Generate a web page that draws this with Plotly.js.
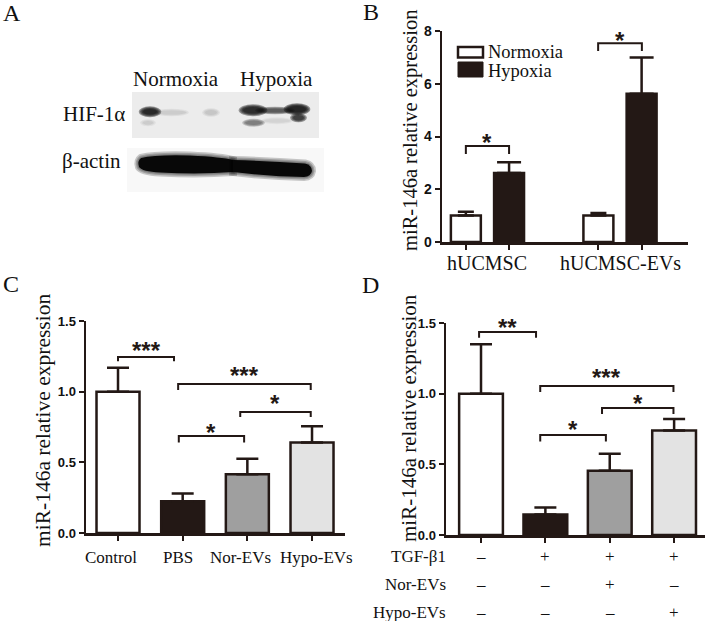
<!DOCTYPE html>
<html><head><meta charset="utf-8">
<script src="https://cdn.plot.ly/plotly-3.0.1.min.js"></script>
<style>html,body{margin:0;padding:0;background:#fff}#chart{width:709px;height:621px}</style>
</head><body><div id="chart"></div>
<script>
// ---------------- data ----------------
const groupsB = ['hUCMSC', 'hUCMSC-EVs'];
const seriesB = ['Normoxia', 'Hypoxia'];
const normoxiaMeanB = [1.0, 1.0];
const normoxiaErrB = [0.15, 0.10];
const hypoxiaMeanB = [2.62, 5.62];
const hypoxiaErrB = [0.40, 1.38];
const yTicksB = [0, 2, 4, 6, 8];

const groupsC = ['Control', 'PBS', 'Nor-EVs', 'Hypo-EVs'];
const meanC = [1.0, 0.225, 0.415, 0.64];
const errC = [0.17, 0.055, 0.11, 0.115];
const yTicksCD = [0, 0.5, 1.0, 1.5];

const meanD = [1.0, 0.145, 0.455, 0.74];
const errD = [0.35, 0.05, 0.12, 0.08];
const rowLabelsD = ['TGF-β1', 'Nor-EVs', 'Hypo-EVs'];
const rowSignsD = [['–', '+', '+', '+'], ['–', '–', '+', '–'], ['–', '–', '–', '+']];

const starsB = ['*', '*'];
const starsC = ['***', '***', '*', '*'];
const starsD = ['**', '***', '*', '*'];

const blotLanes = ['Normoxia', 'Hypoxia'];
const blotRows = ['HIF-1α', 'β-actin'];
const yTitle = 'miR-146a relative expression';

// ---------------- layout helpers ----------------
const W = 709, H = 621;
const dark = '#231815';
const serif = 'Liberation Serif, Times New Roman, serif';
const sans = 'Liberation Sans, Arial, sans-serif';
const fx = x => x / W;
const fy = y => 1 - y / H;
const P = (x, y) => fx(x) + ',' + fy(y);

const barColorsC = ['#ffffff', dark, '#9f9f9f', '#e3e3e3'];
const offB = 0.163;
// bracket geometry: [x from, x to, level, drop] in data units
const brB = [[-offB, offB, 3.64, 0.30], [0.835, 1.165, 7.54, 0.30]];
const brC = [[0, 0.866, 1.245, 0.03], [0.93, 2.98, 1.054, 0.042], [1.89, 2.98, 0.856, 0.036], [0.94, 1.95, 0.686, 0.045]];
const brD = [[-0.03, 0.855, 1.437, 0.042], [0.92, 2.99, 1.054, 0.042], [1.88, 2.99, 0.899, 0.042], [0.92, 1.94, 0.708, 0.047]];
const starGapB = [9, 8], starGapC = [12, 14, 14, 9], starGapD = [10, 14, 10, 11];
const labelShiftC = [-7, -5, -7, 4];

const errStyle = (arr, w) => ({type: 'data', symmetric: false, array: arr, arrayminus: arr.map(() => 0),
  color: dark, thickness: 2.5, width: w});

const traces = [
  {type: 'bar', name: seriesB[0], x: groupsB.map((g, i) => i - offB), y: normoxiaMeanB, width: 0.226,
   marker: {color: '#ffffff', line: {color: dark, width: 2.5}}, error_y: errStyle(normoxiaErrB, 8),
   xaxis: 'x', yaxis: 'y', hoverinfo: 'skip'},
  {type: 'bar', name: seriesB[1], x: groupsB.map((g, i) => i + offB), y: hypoxiaMeanB, width: 0.226,
   marker: {color: dark, line: {color: dark, width: 2.5}}, error_y: errStyle(hypoxiaErrB, 12),
   xaxis: 'x', yaxis: 'y', hoverinfo: 'skip'},
  {type: 'bar', x: groupsC.map((g, i) => i), y: meanC, width: 0.665,
   marker: {color: barColorsC, line: {color: dark, width: 2.5}}, error_y: errStyle(errC, 11),
   xaxis: 'x2', yaxis: 'y2', hoverinfo: 'skip'},
  {type: 'bar', x: meanD.map((v, i) => i), y: meanD, width: 0.68,
   marker: {color: barColorsC, line: {color: dark, width: 2.5}}, error_y: errStyle(errD, 11),
   xaxis: 'x3', yaxis: 'y3', hoverinfo: 'skip'}
];

const axBase = {showline: true, linecolor: dark, linewidth: 2.5, ticks: 'outside', ticklen: 5, tickwidth: 2,
  tickcolor: dark, showgrid: false, zeroline: false, fixedrange: true};
const yFont = s => ({family: sans, size: s, color: '#111'});
const boldTicks = (vals, fmt) => ({tickmode: 'array', tickvals: vals, ticktext: vals.map(v => '<b>' + fmt(v) + '</b>')});

const layout = {
  width: W, height: H, margin: {l: 0, r: 0, t: 0, b: 0}, paper_bgcolor: '#fff', plot_bgcolor: 'rgba(0,0,0,0)',
  showlegend: false, barmode: 'overlay',
  xaxis: Object.assign({}, axBase, {domain: [fx(442), fx(688)], range: [-0.343, 1.513], anchor: 'y',
    tickvals: [-offB, offB, 1 - offB, 1 + offB], showticklabels: false}),
  yaxis: Object.assign({}, axBase, boldTicks(yTicksB, v => String(v)), {domain: [fy(242), fy(31)], range: [0, 8], anchor: 'x', tickfont: yFont(14)}),
  xaxis2: Object.assign({}, axBase, {domain: [fx(86), fx(345)], range: [-0.495, 3.51], anchor: 'y2',
    tickvals: [0, 1, 2, 3], showticklabels: false}),
  yaxis2: Object.assign({}, axBase, boldTicks(yTicksCD, v => v.toFixed(1)), {domain: [fy(533), fy(321)], range: [0, 1.5], anchor: 'x2', tickfont: yFont(13)}),
  xaxis3: Object.assign({}, axBase, {domain: [fx(446), fx(705)], range: [-0.544, 3.48], anchor: 'y3',
    tickvals: [0, 1, 2, 3], showticklabels: false}),
  yaxis3: Object.assign({}, axBase, boldTicks(yTicksCD, v => v.toFixed(1)), {domain: [fy(535), fy(323)], range: [0, 1.5], anchor: 'x3', tickfont: yFont(13)}),
  shapes: [], annotations: []
};

const ann = (o) => layout.annotations.push(Object.assign({showarrow: false}, o));
const txt = (text, x, y, size, xanchor, extra) => ann(Object.assign({text: text, xref: 'paper', yref: 'paper',
  x: fx(x), y: fy(y), xanchor: xanchor || 'center', yanchor: 'middle', font: {family: serif, size: size, color: '#111'}}, extra || {}));

// panel letters
txt('A', 12, 13, 24); txt('B', 371, 12.5, 24); txt('C', 11, 284, 24); txt('D', 370, 285, 24);

// y titles
txt(yTitle, 410, 131, 20.5, 'center', {textangle: -90});
txt(yTitle, 43, 421, 21.5, 'center', {textangle: -90});
txt(yTitle, 409, 418, 21, 'center', {textangle: -90});

// B category labels
groupsB.forEach((g, i) => ann({text: g, xref: 'x', yref: 'paper', x: i, y: fy(263), yanchor: 'middle',
  font: {family: serif, size: 20, color: '#111'}}));
// C category labels
groupsC.forEach((g, i) => ann({text: g, xref: 'x2', yref: 'paper', x: i, y: fy(557.5), yanchor: 'middle',
  xshift: labelShiftC[i], font: {family: serif, size: 17, color: '#111'}}));
// D table
const rowY = [556, 584, 612];
rowLabelsD.forEach((r, k) => {
  txt(r, 448, rowY[k], 17, 'right');
  rowSignsD[k].forEach((s, i) => ann({text: s, xref: 'x3', yref: 'paper', x: i, y: fy(rowY[k]), yanchor: 'middle',
    font: {family: serif, size: 17, color: '#111'}}));
});

// B legend
layout.shapes.push({type: 'rect', xref: 'paper', yref: 'paper', x0: fx(458), x1: fx(483), y0: fy(57.5), y1: fy(47),
  fillcolor: '#fff', line: {color: dark, width: 2.5}});
layout.shapes.push({type: 'rect', xref: 'paper', yref: 'paper', x0: fx(458), x1: fx(483), y0: fy(77), y1: fy(62),
  fillcolor: dark, line: {color: dark, width: 1}});
txt(seriesB[0], 486, 51.5, 18.5, 'left');
txt(seriesB[1], 486, 71.5, 18.5, 'left');

// significance brackets
function brackets(list, stars, gaps, xr, yr) {
  list.forEach((b, i) => {
    const [a, c, y, d] = b;
    layout.shapes.push({type: 'path', xref: xr, yref: yr, path: `M${a},${y - d} L${a},${y} L${c},${y} L${c},${y - d}`,
      line: {color: dark, width: 2}});
    ann({text: '<b>' + stars[i] + '</b>', xref: xr, yref: yr, x: (a + c) / 2, y: y, yanchor: 'middle', yshift: gaps[i] - 5.6,
      font: {family: sans, size: 24, color: dark}});
  });
}
brackets(brB, starsB, starGapB, 'x', 'y');
brackets(brC, starsC, starGapC, 'x2', 'y2');
brackets(brD, starsD, starGapD, 'x3', 'y3');

// ---------------- panel A (western blot drawing) ----------------
txt(blotLanes[0], 175.5, 79, 21); txt(blotLanes[1], 276, 79, 21);
txt(blotRows[0], 127, 113.5, 21, 'right'); txt(blotRows[1], 123, 161, 21, 'right');
layout.shapes.push({type: 'rect', xref: 'paper', yref: 'paper', x0: fx(132), x1: fx(319), y0: fy(138), y1: fy(92),
  fillcolor: '#ececec', line: {width: 0}, layer: 'below'});
layout.shapes.push({type: 'rect', xref: 'paper', yref: 'paper', x0: fx(127), x1: fx(324), y0: fy(192), y1: fy(148),
  fillcolor: '#f8f8f8', line: {width: 0}, layer: 'below'});
const ell = (x0, x1, y0, y1, op) => layout.shapes.push({type: 'circle', xref: 'paper', yref: 'paper',
  x0: fx(x0), x1: fx(x1), y0: fy(y1), y1: fy(y0), fillcolor: '#111', opacity: op, line: {width: 0}});
// soft band: nested translucent ellipses
function band(x0, x1, y0, y1, a, n) {
  n = n || 4;
  for (let k = n - 1; k >= 0; k--) {
    const e = k * 0.9;
    ell(x0 - e * 1.6, x1 + e * 1.6, y0 - e, y1 + e, a);
  }
}
// HIF-1a bands
band(143, 157, 109, 114.5, 0.42);
band(157, 186, 110.5, 114.5, 0.05, 3);
band(205, 217, 110, 115, 0.06, 3);
band(143, 153, 121, 124.5, 0.05, 3);
band(243, 263, 107, 113.5, 0.4);
band(258, 292, 108.5, 112.5, 0.3, 3);
band(288, 306, 106, 112.5, 0.45);
band(245, 262, 120.5, 125, 0.2, 3);
band(264, 290, 119, 122.5, 0.04, 3);
band(293, 304, 115, 120.5, 0.4, 3);
// beta-actin band
const leftBand = `M${P(141, 158)} Q${P(155, 154.5)} ${P(190, 155.5)} Q${P(222, 157)} ${P(233, 160)} L${P(233, 172)} Q${P(200, 174.5)} ${P(160, 172.5)} Q${P(142, 171.5)} ${P(139, 167)} Q${P(137, 161)} ${P(141, 158)} Z`;
const rightBand = `M${P(233, 160)} Q${P(270, 161)} ${P(305, 163.5)} Q${P(312, 165)} ${P(312, 171)} Q${P(311, 176.5)} ${P(304, 177)} Q${P(270, 176.5)} ${P(233, 172)} Z`;
[leftBand, rightBand].forEach(p => {
  [8, 5, 2.5].forEach(w => layout.shapes.push({type: 'path', xref: 'paper', yref: 'paper', path: p, fillcolor: '#000',
    opacity: 0.2, line: {color: '#000', width: w}}));
  layout.shapes.push({type: 'path', xref: 'paper', yref: 'paper', path: p, fillcolor: '#080808', line: {width: 0}});
});

Plotly.newPlot('chart', traces, layout, {displayModeBar: false, staticPlot: true});
</script></body></html>
